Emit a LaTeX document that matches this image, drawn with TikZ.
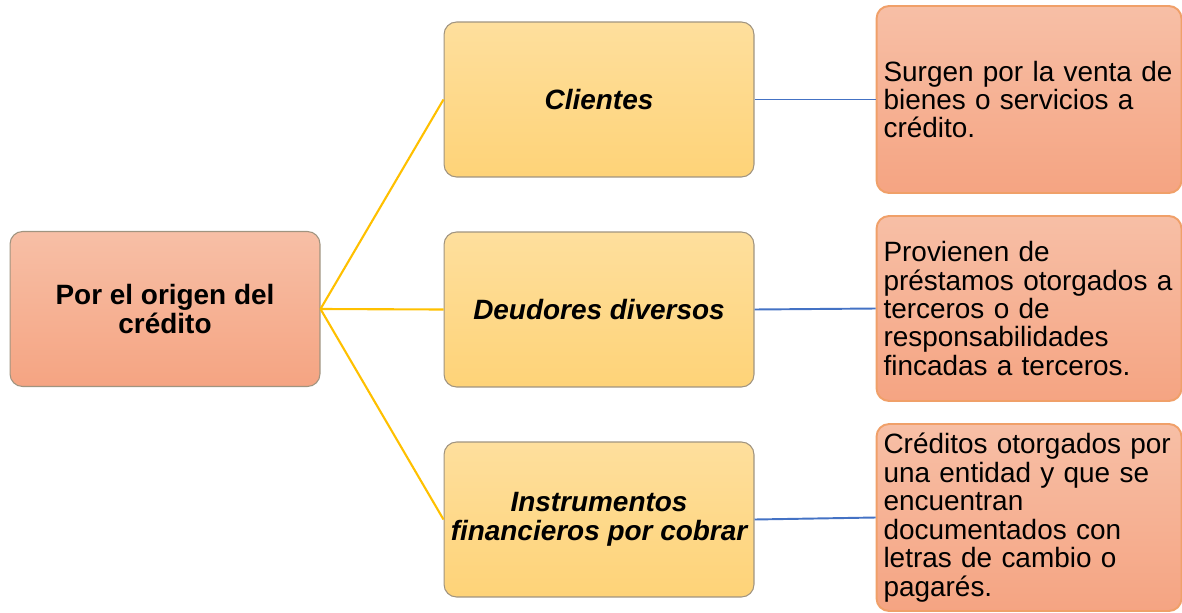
\documentclass[tikz,border=0pt]{standalone}
\usepackage{fontspec}
\setmainfont{Liberation Sans}
\definecolor{salmonT}{RGB}{247,191,166}
\definecolor{salmonB}{RGB}{245,164,130}
\definecolor{goldT}{RGB}{254,223,157}
\definecolor{goldB}{RGB}{254,211,120}
\definecolor{grayedge}{RGB}{160,148,128}
\definecolor{orangeedge}{RGB}{240,160,105}
\definecolor{lineyellow}{RGB}{255,192,0}
\definecolor{lineblue}{RGB}{68,114,196}
\tikzset{
  rootbox/.style={draw=grayedge, line width=0.6pt, rounded corners=0.25cm,
    top color=salmonT, bottom color=salmonB, minimum width=6.2cm, minimum height=3.1cm,
    align=center, font=\fontsize{15.9}{16.8}\selectfont\bfseries},
  midbox/.style={draw=grayedge, line width=0.6pt, rounded corners=0.25cm,
    top color=goldT, bottom color=goldB, minimum width=6.2cm, minimum height=3.1cm,
    align=center, font=\fontsize{15.9}{16.2}\selectfont\bfseries\itshape},
  descbox/.style={draw=orangeedge, line width=1.1pt, rounded corners=0.25cm,
    top color=salmonT, bottom color=salmonB, text width=5.82cm, inner xsep=0.14cm, inner ysep=0.1cm,
    align=left, font=\fontsize{15.9}{16.2}\selectfont},
  yl/.style={draw=lineyellow, line width=1.2pt},
  bl/.style={draw=lineblue, line width=1.1pt}
}
\begin{document}
\begin{tikzpicture}[x=0.02cm,y=-0.02cm]
\useasboundingbox (0,0) rectangle (1182,612);
\node[rootbox] (root) at (165,309) {Por el origen del\\crédito};
\node[midbox] (m1) at (599,99.5) {Clientes};
\node[midbox] (m2) at (599,309.5) {Deudores diversos};
\node[midbox] (m3) at (599,519.5) {Instrumentos\\financieros por cobrar};
\node[descbox, minimum height=3.74cm] (d1) at (1029,99.5) {Surgen por la venta de\\bienes o servicios a\\crédito.};
\node[descbox, minimum height=3.7cm] (d2) at (1029,308.5) {Provienen de\\préstamos otorgados a\\terceros o de\\responsabilidades\\fincadas a terceros.};
\node[descbox, minimum height=3.74cm] (d3) at (1029,517.5) {Créditos otorgados por\\una entidad y que se\\encuentran\\documentados con\\letras de cambio o\\pagarés.};
\draw[yl] (root.east) -- (m1.west);
\draw[yl] (root.east) -- (m2.west);
\draw[yl] (root.east) -- (m3.west);
\draw[bl] (m1.east) -- (d1.west);
\draw[bl] (m2.east) -- (d2.west);
\draw[bl] (m3.east) -- (d3.west);
\end{tikzpicture}
\end{document}
